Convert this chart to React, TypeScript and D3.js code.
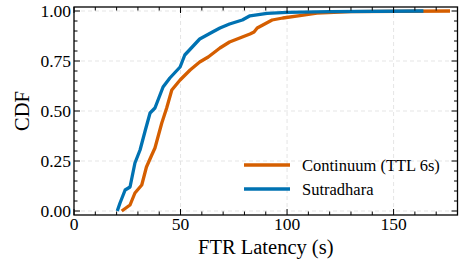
import React from 'react';
import * as d3 from 'd3';

// latency (s) and cumulative fraction
const contX = [22.4, 26.3, 28.6, 31.8, 34, 36.5, 38, 41.2, 43.5, 45.9, 49.8, 54.5, 59, 63, 68.5, 73, 79, 82.6, 84.5, 86, 93, 98, 106, 114, 130, 176.5];
const contY = [0, 0.03, 0.09, 0.13, 0.22, 0.28, 0.315, 0.44, 0.515, 0.605, 0.655, 0.705, 0.745, 0.77, 0.815, 0.845, 0.87, 0.885, 0.895, 0.915, 0.955, 0.965, 0.977, 0.99, 0.997, 1.0];
const sutrX = [20.3, 21.6, 24, 26.3, 28.6, 31, 33.5, 35.7, 38, 41.8, 45, 49.8, 52, 55.5, 59, 65, 68.5, 73, 79, 82.6, 90.6, 100, 120, 164];
const sutrY = [0, 0.04, 0.105, 0.12, 0.24, 0.305, 0.405, 0.49, 0.515, 0.62, 0.665, 0.72, 0.78, 0.82, 0.86, 0.895, 0.915, 0.935, 0.955, 0.976, 0.988, 0.993, 0.997, 1.0];

const series = [
  { name: 'Continuum (TTL 6s)', xs: contX, ys: contY, color: '#D55E00' },
  { name: 'Sutradhara', xs: sutrX, ys: sutrY, color: '#0072B2' },
];

const xTicks = [0, 50, 100, 150];
const yTicks = [0, 0.25, 0.5, 0.75, 1.0];

const W = 459, H = 260;
const m = { left: 74, top: 7, right: 457.5, bottom: 215 };
const FONT = '"Liberation Serif", "DejaVu Serif", serif';

export default function App() {
  const x = d3.scaleLinear().domain([0, 180]).range([m.left, m.right]);
  const y = d3.scaleLinear().domain([-0.02, 1.02]).range([m.bottom, m.top]);
  const xMinor = d3.range(0, 181, 10).filter(v => v % 50 !== 0);
  const yMinor = d3.range(0, 21).map(i => i * 0.05).filter((_, i) => i % 5 !== 0);
  const line = d3.line<[number, number]>().x(d => x(d[0])).y(d => y(d[1]));

  const tick = (key: string, x1: number, y1: number, x2: number, y2: number) => (
    <line key={key} x1={x1} y1={y1} x2={x2} y2={y2} stroke="#000" strokeWidth={1} />
  );

  return (
    <svg width={W} height={H} style={{ position: 'absolute', left: 0, top: 0 }} fontFamily={FONT}>
      <defs>
        <clipPath id="plot">
          <rect x={m.left} y={m.top} width={m.right - m.left} height={m.bottom - m.top} />
        </clipPath>
      </defs>
      {/* grid */}
      {xTicks.slice(1).map(v => (
        <line key={'gx' + v} x1={x(v)} x2={x(v)} y1={m.top} y2={m.bottom} stroke="#e2e2e2" strokeWidth={0.9} strokeDasharray="4,3" />
      ))}
      {yTicks.map(v => (
        <line key={'gy' + v} x1={m.left} x2={m.right} y1={y(v)} y2={y(v)} stroke="#e2e2e2" strokeWidth={0.9} strokeDasharray="4,3" />
      ))}
      {/* curves */}
      <g clipPath="url(#plot)">
        {series.map(s => (
          <path key={s.name} d={line(s.xs.map((v, i) => [v, s.ys[i]] as [number, number])) || ''}
            fill="none" stroke={s.color} strokeWidth={3.3} strokeLinejoin="round" strokeLinecap="butt" />
        ))}
      </g>
      {/* ticks */}
      {xTicks.map(v => [
        tick('xb' + v, x(v), m.bottom, x(v), m.bottom - 6),
        tick('xt' + v, x(v), m.top, x(v), m.top + 6),
      ])}
      {xMinor.map(v => [
        tick('xbm' + v, x(v), m.bottom, x(v), m.bottom - 3.5),
        tick('xtm' + v, x(v), m.top, x(v), m.top + 3.5),
      ])}
      {yTicks.map(v => [
        tick('yl' + v, m.left, y(v), m.left + 6, y(v)),
        tick('yr' + v, m.right, y(v), m.right - 6, y(v)),
      ])}
      {yMinor.map(v => [
        tick('ylm' + v, m.left, y(v), m.left + 3.5, y(v)),
        tick('yrm' + v, m.right, y(v), m.right - 3.5, y(v)),
      ])}
      <rect x={m.left} y={m.top} width={m.right - m.left} height={m.bottom - m.top} fill="none" stroke="#000" strokeWidth={1.3} />
      {/* tick labels */}
      {xTicks.map(v => (
        <text key={'xl' + v} x={x(v)} y={230} textAnchor="middle" fontSize={17.5}>{v}</text>
      ))}
      {yTicks.map(v => (
        <text key={'yl' + v} x={71} y={y(v)} dy="0.34em" textAnchor="end" fontSize={17.5}>{v.toFixed(2)}</text>
      ))}
      {/* axis labels */}
      <text x={(m.left + m.right) / 2} y={254} textAnchor="middle" fontSize={20.5}>FTR Latency (s)</text>
      <text transform={`translate(29,${(m.top + m.bottom) / 2}) rotate(-90)`} textAnchor="middle" fontSize={20.5}>CDF</text>
      {/* legend */}
      {series.map((s, i) => (
        <g key={'lg' + s.name} transform={`translate(244,${165 + i * 24})`}>
          <line x1={0} x2={46} y1={0} y2={0} stroke={s.color} strokeWidth={3.3} />
          <text x={58} y={0} dy="0.34em" fontSize={16.5}>{s.name}</text>
        </g>
      ))}
    </svg>
  );
}
